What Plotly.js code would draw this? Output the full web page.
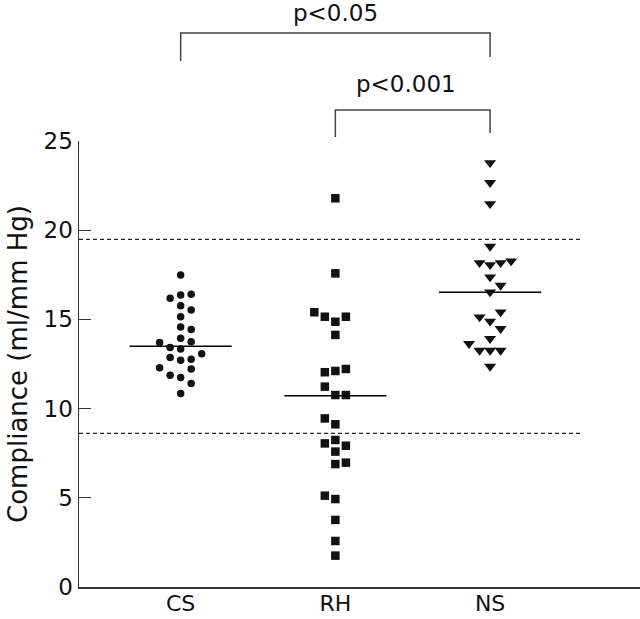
<!DOCTYPE html>
<html>
<head>
<meta charset="utf-8">
<script src="https://cdn.plot.ly/plotly-3.0.1.min.js"></script>
<style>
  body { margin: 0; background: #fff; }
  #grafic { width: 640px; height: 619px; }
</style>
</head>
<body>
<div id="grafic"></div>
<script>
// grups (eix x)
var grups = ['CS', 'RH', 'NS'];

// valors llegits del gràfic, i columna de dispersió de cada punt (-2..2)
var valorsCS = [17.49, 16.18, 16.37, 16.41, 15.77, 15.53, 15.15, 14.57, 14.44, 13.94, 13.70, 13.75,
                13.43, 13.34, 13.08, 12.87, 12.71, 12.76, 12.29, 12.22, 11.87, 11.75, 11.40, 10.84];
var colsCS   = [0, -1, 0, 1, 0, 1, 0, 0, 1, 0, -2, 1,
                -1, 0, 2, -1, 0, 1, -2, 1, -1, 0, 1, 0];

var valorsRH = [21.79, 17.58, 15.40, 15.15, 14.87, 15.15, 14.13, 12.04, 12.11, 12.22, 11.23, 10.76, 10.76,
                9.45, 9.12, 8.05, 8.24, 7.92, 7.59, 6.89, 6.97, 5.12, 4.93, 3.76, 2.58, 1.76];
var colsRH   = [0, 0, -2, -1, 0, 1, 0, -1, 0, 1, -1, 0, 1,
                -1, 0, -1, 0, 1, 0, 0, 1, -1, 0, 0, 0, 0];

var valorsNS = [23.78, 22.66, 21.48, 19.09, 18.17, 18.06, 18.17, 18.27, 17.37, 16.90, 16.53,
                15.41, 15.13, 14.89, 14.48, 13.92, 13.64, 13.26, 13.26, 13.26, 12.36];
var colsNS   = [0, 0, 0, 0, -1, 0, 1, 2, 0, 1, 0,
                1, -1, 0, 1, 0, -2, -1, 0, 1, 0];

// mitjanes de cada grup i límits del rang normal (línies puntejades)
var mitjanes = [13.49, 10.72, 16.52];
var rangNormal = [8.61, 19.49];

// comparacions: [grup inicial, grup final, text]
var comparacions = [[0, 2, 'p<0.05'], [1, 2, 'p<0.001']];

var PAS_COL = 0.068;   // separació horitzontal entre columnes de punts
var Y_MAX = 25;

function xs(grup, cols) {
    return cols.map(function (c) { return grup + c * PAS_COL; });
}

var negre = '#111';
var traces = [
    {x: xs(0, colsCS), y: valorsCS, mode: 'markers', type: 'scatter',
     marker: {symbol: 'circle', size: 7.5, color: negre}},
    {x: xs(1, colsRH), y: valorsRH, mode: 'markers', type: 'scatter',
     marker: {symbol: 'square', size: 8.5, color: negre}},
    {x: xs(2, colsNS), y: valorsNS, mode: 'markers', type: 'scatter',
     marker: {symbol: 'triangle-down', size: 10.5, color: negre}}
];

var shapes = [];
// línies de mitjana
mitjanes.forEach(function (m, g) {
    shapes.push({type: 'line', xref: 'x', yref: 'y', x0: g - 0.33, x1: g + 0.33, y0: m, y1: m,
                 line: {color: '#000', width: 1.5}});
});
// línies puntejades
rangNormal.forEach(function (v) {
    shapes.push({type: 'line', xref: 'paper', yref: 'y', x0: 0, x1: 0.897, y0: v, y1: v,
                 line: {color: '#222', width: 1.2, dash: '4px,3px'}});
});

// claudàtors de significació (per damunt de l'àrea del gràfic)
var alcades = [{dalt: 31.05, esq: 29.48, dre: 29.71, text: 32.2},
               {dalt: 26.74, esq: 25.22, dre: 25.45, text: 28.2}];
var annotations = [];
comparacions.forEach(function (c, k) {
    var a = alcades[k];
    var path = 'M' + c[0] + ',' + (a.esq / Y_MAX) + ' L' + c[0] + ',' + (a.dalt / Y_MAX) +
               ' L' + c[1] + ',' + (a.dalt / Y_MAX) + ' L' + c[1] + ',' + (a.dre / Y_MAX);
    shapes.push({type: 'path', xref: 'x', yref: 'paper', path: path,
                 line: {color: '#444', width: 1.5}});
    annotations.push({xref: 'x', yref: 'paper', x: (c[0] + c[1]) / 2 - (k === 1 ? 0.045 : 0),
                      y: a.text / Y_MAX, text: c[2], showarrow: false,
                      xanchor: 'center', yanchor: 'middle',
                      font: {size: 23, color: '#111'}});
});

var layout = {
    width: 640,
    height: 619,
    margin: {l: 79, r: 0, t: 141, b: 32},
    paper_bgcolor: '#fff',
    plot_bgcolor: '#fff',
    showlegend: false,
    font: {family: 'DejaVu Sans, sans-serif', size: 23, color: '#111'},
    xaxis: {
        range: [-0.657, 2.969],
        tickvals: [0, 1, 2],
        ticktext: grups,
        ticks: '',
        ticklabelstandoff: -4,
        showgrid: false,
        zeroline: false,
        showline: true,
        linecolor: '#333',
        linewidth: 1.5,
        tickfont: {size: 22}
    },
    yaxis: {
        range: [0, Y_MAX],
        tickvals: [0, 5, 10, 15, 20, 25],
        ticks: 'inside',
        ticklen: 12,
        tickwidth: 1.2,
        tickcolor: '#333',
        showgrid: false,
        zeroline: false,
        showline: true,
        linecolor: '#333',
        linewidth: 1.5,
        tickfont: {size: 23},
        title: {text: 'Compliance (ml/mm Hg)', font: {size: 26}, standoff: 8}
    },
    shapes: shapes,
    annotations: annotations
};

Plotly.newPlot('grafic', traces, layout, {displayModeBar: false, staticPlot: true});
</script>
</body>
</html>
